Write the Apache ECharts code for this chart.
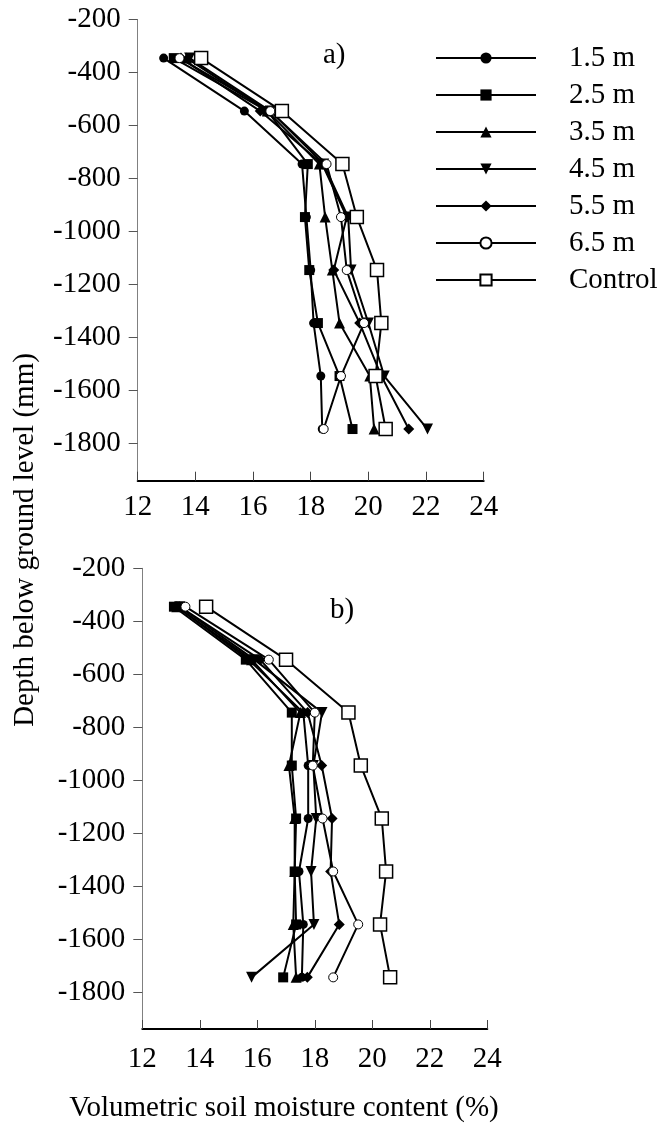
<!DOCTYPE html>
<html>
<head>
<meta charset="utf-8">
<script src="https://cdn.jsdelivr.net/npm/echarts@6/dist/echarts.min.js"></script>
<style>
html,body{margin:0;padding:0;background:#fff;}
#c{width:663px;height:1142px;}
</style>
</head>
<body>
<div id="c"></div>
<script>
// ---- data ----
var depths = [-345, -545, -745, -945, -1145, -1345, -1545, -1745];
var seriesNames = ['1.5 m', '2.5 m', '3.5 m', '4.5 m', '5.5 m', '6.5 m', 'Control'];
var yTicks = [-200, -400, -600, -800, -1000, -1200, -1400, -1600, -1800];
var xTicks = [12, 14, 16, 18, 20, 22, 24];

// panel a)
var a_15 = [12.9, 15.7, 17.7, 17.85, 18.0, 18.1, 18.35, 18.4];
var a_25 = [13.25, 16.5, 17.9, 17.8, 17.95, 18.25, 19.0, 19.45];
var a_35 = [13.7, 16.5, 18.3, 18.5, 18.75, 19.0, 20.05, 20.2];
var a_45 = [13.8, 16.6, 18.45, 19.3, 19.4, 20.0, 20.55, 22.05];
var a_55 = [13.5, 16.25, 18.4, 19.25, 18.8, 19.7, 20.45, 21.4];
var a_65 = [13.45, 16.6, 18.55, 19.05, 19.25, 19.85, 19.05, 18.45];
var a_ctrl = [14.2, 17.0, 19.1, 19.6, 20.3, 20.45, 20.25, 20.6];

// panel b)
var b_15 = [13.2, 15.7, 17.6, 17.77, 17.77, 17.45, 17.6, 17.55];
var b_25 = [13.1, 15.6, 17.2, 17.2, 17.35, 17.3, 17.35, 16.9];
var b_35 = [13.2, 15.8, 17.5, 17.1, 17.3, 17.3, 17.25, 17.35];
var b_45 = [13.3, 15.9, 18.25, 17.95, 18.05, 17.87, 17.97, 15.8];
var b_55 = [13.3, 16.1, 17.75, 18.24, 18.6, 18.55, 18.85, 17.74];
var b_65 = [13.5, 16.4, 18.0, 17.93, 18.27, 18.64, 19.51, 18.64];
var b_ctrl = [14.22, 17.0, 19.17, 19.6, 20.33, 20.48, 20.27, 20.62];

var panelA = [a_15, a_25, a_35, a_45, a_55, a_65, a_ctrl];
var panelB = [b_15, b_25, b_35, b_45, b_55, b_65, b_ctrl];

// ---- styles ----
var FONT = "'Liberation Serif', 'Times New Roman', serif";
var FS = 29;
var symbolDefs = [
  {symbol: 'circle', size: 9, fill: '#000', bw: 0, rot: 0},
  {symbol: 'rect', size: 10, fill: '#000', bw: 0, rot: 0},
  {symbol: 'triangle', size: 11, fill: '#000', bw: 0, rot: 0},
  {symbol: 'triangle', size: 11, fill: '#000', bw: 0, rot: 180},
  {symbol: 'diamond', size: 11, fill: '#000', bw: 0, rot: 0},
  {symbol: 'circle', size: 9, fill: '#fff', bw: 1, rot: 0},
  {symbol: 'rect', size: 13, fill: '#fff', bw: 1.5, rot: 0}
];

function makeSeries(panel, idx) {
  return panel.map(function (vals, i) {
    var s = symbolDefs[i];
    return {
      name: seriesNames[i],
      type: 'line',
      xAxisIndex: idx,
      yAxisIndex: idx,
      data: vals.map(function (v, k) { return [v, depths[k]]; }),
      symbol: s.symbol,
      symbolSize: s.size,
      symbolRotate: s.rot,
      showAllSymbol: true,
      animation: false,
      lineStyle: {color: '#000', width: 2},
      itemStyle: {color: s.fill, borderColor: '#000', borderWidth: s.bw, opacity: 1},
      emphasis: {disabled: true},
      z: 2 + i
    };
  });
}

function xAxisDef(idx, margin) {
  return {
    type: 'value', gridIndex: idx, min: 12, max: 24, interval: 2,
    axisLine: {show: true, onZero: false, lineStyle: {color: '#000', width: 2}},
    axisTick: {show: true, inside: true, length: 9, lineStyle: {color: '#444', width: 1}},
    axisLabel: {color: '#000', fontFamily: FONT, fontSize: FS, margin: margin},
    splitLine: {show: false}
  };
}
function yAxisDef(idx) {
  return {
    type: 'value', gridIndex: idx, min: -1940, max: -200,
    axisLine: {show: true, onZero: false, lineStyle: {color: '#808080', width: 1}},
    axisTick: {show: true, inside: false, length: 9, customValues: yTicks, lineStyle: {color: '#555', width: 1}},
    axisLabel: {color: '#000', fontFamily: FONT, fontSize: FS, margin: 17, customValues: yTicks,
      formatter: function (v) { return String(v); }},
    splitLine: {show: false}
  };
}

var chart = echarts.init(document.getElementById('c'), null, {renderer: 'canvas'});
chart.setOption({
  backgroundColor: '#fff',
  animation: false,
  grid: [
    {left: 137.7, right: 179.3, top: 19.7, bottom: 661.3},
    {left: 142.3, right: 175.7, top: 568.3, bottom: 113}
  ],
  xAxis: [xAxisDef(0, 12), xAxisDef(1, 16)],
  yAxis: [yAxisDef(0), yAxisDef(1)],
  legend: {
    orient: 'vertical',
    left: 435,
    top: 43.5,
    padding: 0,
    itemWidth: 100,
    itemHeight: 14,
    itemGap: 8,
    selectedMode: false,
    data: seriesNames,
    textStyle: {color: '#000', fontFamily: FONT, fontSize: FS, lineHeight: 29, padding: [0, 0, 0, 28]}
  },
  graphic: [
    {type: 'text', left: 323, top: 41, style: {text: 'a)', font: FS + 'px ' + FONT, fill: '#000'}},
    {type: 'text', left: 330, top: 596, style: {text: 'b)', font: FS + 'px ' + FONT, fill: '#000'}},
    {type: 'text', x: 25, y: 540, rotation: Math.PI / 2,
     style: {text: 'Depth below ground level (mm)', font: FS + 'px ' + FONT, fill: '#000', align: 'center', verticalAlign: 'middle'}},
    {type: 'text', x: 284, y: 1108,
     style: {text: 'Volumetric soil moisture content (%)', font: FS + 'px ' + FONT, fill: '#000', align: 'center', verticalAlign: 'middle'}}
  ],
  series: makeSeries(panelA, 0).concat(makeSeries(panelB, 1))
});
</script>
</body>
</html>
